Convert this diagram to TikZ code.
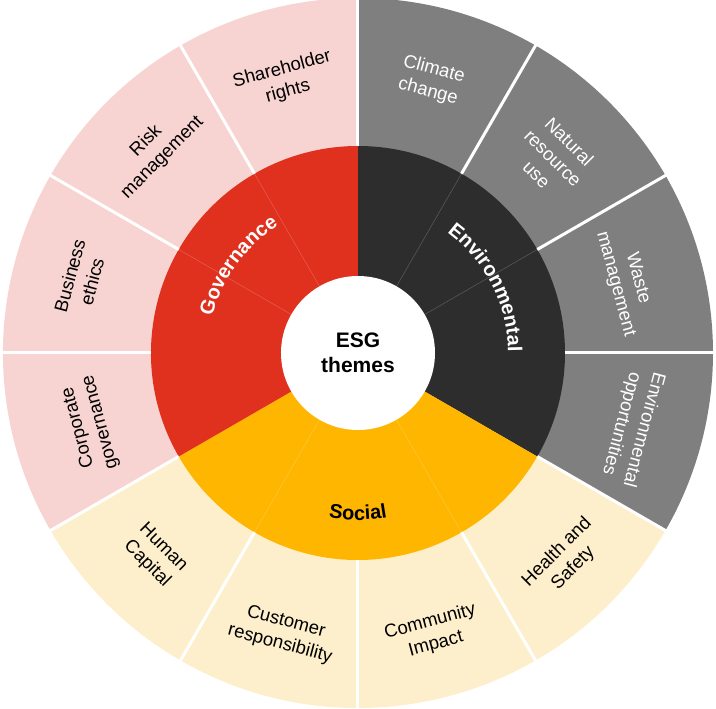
\documentclass[tikz,border=0pt]{standalone}
\usepackage{fontspec}
\setmainfont{Liberation Sans}
\usetikzlibrary{decorations.text}

\definecolor{envdark}{HTML}{2D2D2D}
\definecolor{envlight}{HTML}{7F7F7F}
\definecolor{socdark}{HTML}{FFB600}
\definecolor{soclight}{HTML}{FEEFCC}
\definecolor{govdark}{HTML}{E0301E}
\definecolor{govlight}{HTML}{F7D4D1}

\tikzset{
    outlbl/.style={align=center, inner sep=0pt, font=\fontsize{18.5}{23}\selectfont},
    whitelbl/.style={outlbl, text=white},
    gap/.style={white, line width=3pt},
    faint/.style={white, opacity=0.2, line width=0.6pt}
}

\begin{document}
\begin{tikzpicture}[x=1pt, y=1pt]
    \useasboundingbox (-358,-356) rectangle (358,353);

    % Outer ring (themes)
    \fill[envlight] (0,0) -- (90:355pt) arc[start angle=90, end angle=-30, radius=355pt] -- cycle;
    \fill[soclight] (0,0) -- (-30:355pt) arc[start angle=-30, end angle=-150, radius=355pt] -- cycle;
    \fill[govlight] (0,0) -- (-150:355pt) arc[start angle=-150, end angle=-270, radius=355pt] -- cycle;

    % Middle ring (pillars)
    \fill[envdark] (0,0) -- (90:207pt) arc[start angle=90, end angle=-30, radius=207pt] -- cycle;
    \fill[socdark] (0,0) -- (-30:207pt) arc[start angle=-30, end angle=-150, radius=207pt] -- cycle;
    \fill[govdark] (0,0) -- (-150:207pt) arc[start angle=-150, end angle=-270, radius=207pt] -- cycle;

    % Gaps between the outer segments
    \foreach \a in {0,30,...,330}
        \draw[gap] (\a:207pt) -- (\a:357pt);
    % Thin lines inside the middle ring
    \foreach \a in {60,30,-60,-120,150,120}
        \draw[faint] (\a:77pt) -- (\a:207pt);

    % Hole in the middle
    \fill[white] (0,0) circle[radius=77pt];
    \node[align=center, font=\fontsize{21}{25}\selectfont\bfseries] (esg) at (0,0) {ESG\\themes};

    % Pillar labels, set along the ring
    \path[decorate, decoration={text along path, text align=center, text color=white,
        text={|\fontsize{20}{24}\selectfont\bfseries|Environmental}}]
        (57:150pt) arc[start angle=57, end angle=-3, radius=150pt];
    \path[decorate, decoration={text along path, text align=center, text color=black,
        text={|\fontsize{20}{24}\selectfont\bfseries|Social}}]
        (-120:167pt) arc[start angle=-120, end angle=-60, radius=167pt];
    \path[decorate, decoration={text along path, text align=center, text color=white,
        text={|\fontsize{20}{24}\selectfont\bfseries|Governance}}]
        (174:150pt) arc[start angle=174, end angle=114, radius=150pt];

    % Environmental themes
    \node[whitelbl, rotate=-15] (climate) at (75:282pt) {Climate\\change};
    \node[whitelbl, rotate=-45] (natural) at (45:276pt) {Natural\\resource\\use};
    \node[whitelbl, rotate=-75] (waste) at (15:278pt) {Waste\\management};
    \node[whitelbl, rotate=-105] (envopp) at (-15:284pt) {Environmental\\opportunities};
    % Social themes
    \node[outlbl, rotate=45] (health) at (-45:293pt) {Health and\\Safety};
    \node[outlbl, rotate=15] (community) at (-75:290pt) {Community\\Impact};
    \node[outlbl, rotate=-15] (customer) at (-105:290pt) {Customer\\responsibility};
    \node[outlbl, rotate=-45] (human) at (-135:287pt) {Human\\Capital};
    % Governance themes
    \node[outlbl, rotate=105] (corpgov) at (-165:278pt) {Corporate\\governance};
    \node[outlbl, rotate=75] (ethics) at (165:287pt) {Business\\ethics};
    \node[outlbl, rotate=45] (risk) at (135:288pt) {Risk\\management};
    \node[outlbl, rotate=15] (shareholder) at (105:282pt) {Shareholder\\rights};
\end{tikzpicture}
\end{document}
